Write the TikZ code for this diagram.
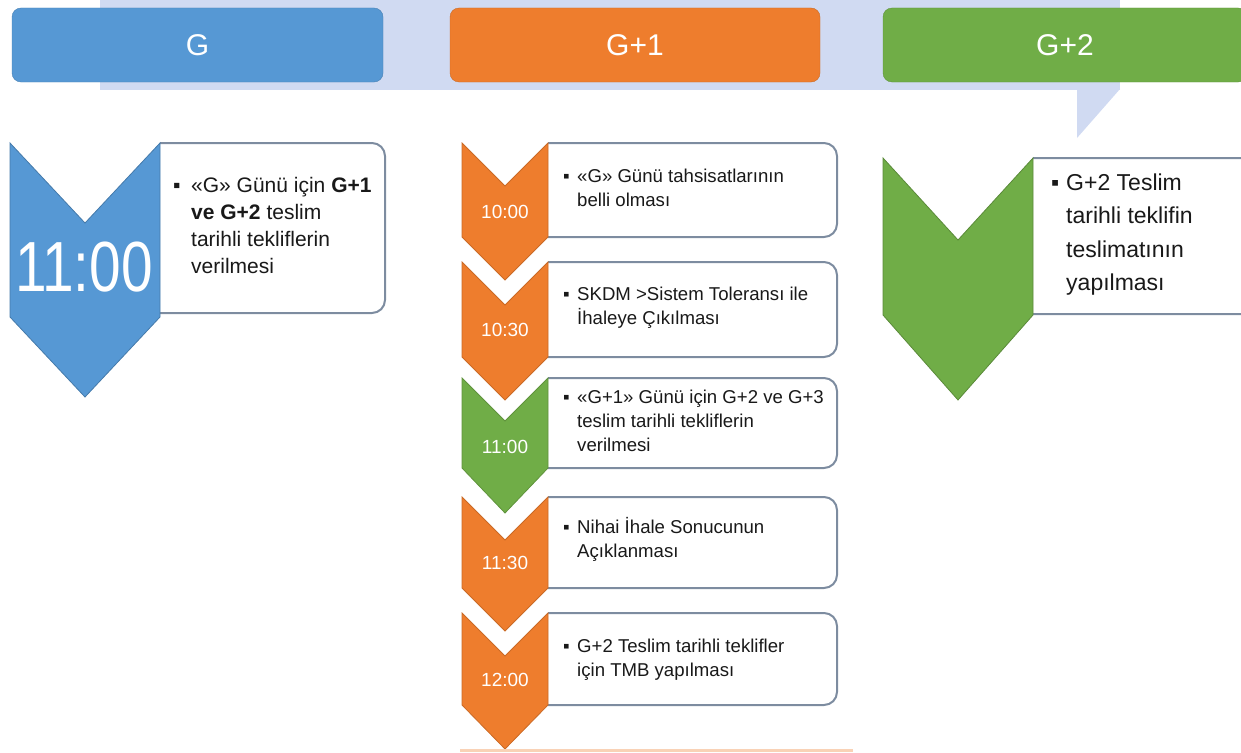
\documentclass[tikz,border=0pt]{standalone}
\usepackage{fontspec}
\setmainfont{Liberation Sans}
\definecolor{cblue}{RGB}{86,152,212}
\definecolor{corange}{RGB}{238,125,45}
\definecolor{cgreen}{RGB}{112,173,71}
\definecolor{lav}{RGB}{208,218,242}
\definecolor{edgec}{RGB}{125,140,160}
\definecolor{txt}{RGB}{25,25,25}
\tikzset{
  hdr/.style={rounded corners=9pt, inner sep=0pt, minimum height=74pt, text=white,
    font=\fontsize{30}{30}\selectfont},
  chev/.style={line width=0.8pt, line join=miter},
  infobox/.style={draw=edgec, fill=white, line width=2pt, rounded corners=13pt},
  midtext/.style={anchor=base west, inner sep=0pt, text=txt,
    font=\fontsize{18.6}{24}\selectfont},
  lefttext/.style={anchor=base west, inner sep=0pt, text=txt,
    font=\fontsize{21}{27}\selectfont},
  righttext/.style={anchor=base west, inner sep=0pt, text=txt,
    font=\fontsize{23}{33.5}\selectfont},
  timelbl/.style={text=white, inner sep=0pt, font=\fontsize{19}{19}\selectfont},
}
\newcommand{\bullines}[2]{\makebox[#1][l]{▪}\begin{tabular}[t]{@{}l@{}}#2\end{tabular}}
\begin{document}
\begin{tikzpicture}[x=1pt,y=-1pt]
\useasboundingbox (0,0) rectangle (1241,752);
\clip (0,0) rectangle (1241,752);
% background band with pointer
\fill[lav] (100,0) rectangle (1120,90);
\fill[lav] (1077,89) -- (1120,89) -- (1077,138) -- cycle;
% headers
\node[hdr, fill=cblue, draw=cblue!85!black, minimum width=371pt] (hG) at (197.5,45) {G};
\node[hdr, fill=corange, draw=corange!85!black, minimum width=370pt] (hG1) at (635,45) {G+1};
\node[hdr, fill=cgreen, draw=cgreen!85!black, minimum width=364pt] (hG2) at (1065,45) {G+2};

% ---------- left column ----------
\draw[infobox] (160,143) -- (385,143) -- (385,313) -- (160,313);
\filldraw[chev, fill=cblue, draw=cblue!80!black] (10,143) -- (85,223) -- (160,143) -- (160,317) -- (85,397) -- (10,317) -- cycle;
\node[text=white, inner sep=0pt, font=\fontsize{71}{71}\selectfont] (t1100) at (84,267.5) {\scalebox{0.8}[1]{11:00}};
\node[lefttext] (ltxt) at (173,192) {\bullines{18pt}{«G» Günü için \textbf{G+1}\\ \textbf{ve G+2} teslim\\ tarihli tekliflerin\\ verilmesi}};

% ---------- middle column ----------
\foreach \t/\b in {143/237, 262/357, 378/468, 497/588, 613/705}{
  \draw[infobox] (548,\t) -- (837,\t) -- (837,\b) -- (548,\b);
}
\filldraw[chev, fill=corange, draw=corange!85!black] (462,143) -- (505,186) -- (548,143) -- (548,237) -- (505,280) -- (462,237) -- cycle;
\filldraw[chev, fill=corange, draw=corange!85!black] (462,262) -- (505,305) -- (548,262) -- (548,357) -- (505,400) -- (462,357) -- cycle;
\filldraw[chev, fill=cgreen, draw=cgreen!85!black] (462,378) -- (505,421) -- (548,378) -- (548,468) -- (505,513) -- (462,468) -- cycle;
\filldraw[chev, fill=corange, draw=corange!85!black] (462,497) -- (505,540) -- (548,497) -- (548,588) -- (505,631) -- (462,588) -- cycle;
\filldraw[chev, fill=corange, draw=corange!85!black] (462,613) -- (505,656) -- (548,613) -- (548,705) -- (505,749) -- (462,705) -- cycle;
\node[timelbl] (m1) at (505,212) {10:00};
\node[timelbl] (m2) at (505,330) {10:30};
\node[timelbl] (m3) at (505,447) {11:00};
\node[timelbl] (m4) at (505,563) {11:30};
\node[timelbl] (m5) at (505,680) {12:00};
\node[midtext] (b1) at (563,182) {\bullines{14pt}{«G» Günü tahsisatlarının\\ belli olması}};
\node[midtext] (b2) at (563,300) {\bullines{14pt}{SKDM >Sistem Toleransı ile\\ İhaleye Çıkılması}};
\node[midtext] (b3) at (563,403) {\bullines{14pt}{«G+1» Günü için G+2 ve G+3\\ teslim tarihli tekliflerin\\ verilmesi}};
\node[midtext] (b4) at (563,533) {\bullines{14pt}{Nihai İhale Sonucunun\\ Açıklanması}};
\node[midtext] (b5) at (563,652) {\bullines{14pt}{G+2 Teslim tarihli teklifler\\ için TMB yapılması}};
\draw[corange!35, line width=3pt] (460,750.5) -- (853,750.5);

% ---------- right column ----------
\draw[infobox] (1033,158) -- (1270,158) -- (1270,314) -- (1033,314);
\filldraw[chev, fill=cgreen, draw=cgreen!80!black] (883,158) -- (958,240) -- (1033,158) -- (1033,315) -- (958,400) -- (883,315) -- cycle;
\node[righttext] (rtxt) at (1051,190) {\bullines{15pt}{G+2 Teslim\\ tarihli teklifin\\ teslimatının\\ yapılması}};
\end{tikzpicture}
\end{document}
